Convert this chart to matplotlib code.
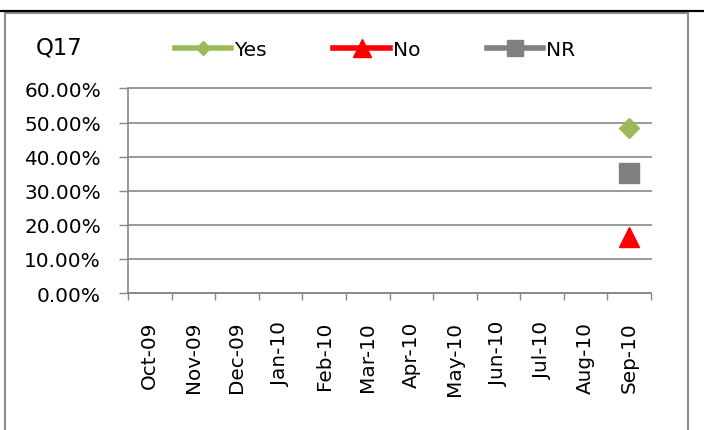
import numpy as np
import matplotlib
matplotlib.use("Agg")
import matplotlib.pyplot as plt
import matplotlib.ticker as ticker
from matplotlib.lines import Line2D
from matplotlib.patches import Rectangle

# data (only Sep-10 has values)
months = ["Oct-09", "Nov-09", "Dec-09", "Jan-10", "Feb-10", "Mar-10",
          "Apr-10", "May-10", "Jun-10", "Jul-10", "Aug-10", "Sep-10"]
nan = np.nan
yes = [nan] * 11 + [0.485]
no = [nan] * 11 + [0.163]
nr = [nan] * 11 + [0.352]

GRID = "#878787"
FRAME = "#8c8c8c"
W, H = 704, 431

plt.rcParams['font.family'] = ['DejaVu Sans']

fig = plt.figure(figsize=(W / 100, H / 100), dpi=100)
ax = fig.add_axes([128 / W, 1 - 294 / H, (651 - 128) / W, (294 - 89.5) / H])

x = np.arange(len(months))
l_yes, = ax.plot(x, yes, color="#9BBB59", lw=4, marker="D", ms=10.2, label="Yes")
l_no, = ax.plot(x, no, color="#FF0000", lw=4, marker="^", ms=14.4, label="No")
l_nr, = ax.plot(x, nr, color="#808080", lw=4, marker="s", ms=14.4, label="NR")

ax.set_xlim(-0.5, len(months) - 0.5)
ax.set_ylim(0, 0.6)
ax.yaxis.set_major_locator(ticker.MultipleLocator(0.1))
ax.yaxis.set_major_formatter(ticker.PercentFormatter(xmax=1, decimals=2))
ax.set_xticks(x)
ax.set_xticklabels(months, rotation=90)
ax.set_xticks(np.arange(-0.5, len(months)), minor=True)

ax.grid(axis="y", color=GRID, lw=1.2)
for gl in ax.get_ygridlines():
    gl.set_clip_on(False)
ax.set_axisbelow(True)
for s in ["top", "right"]:
    ax.spines[s].set_visible(False)
for s in ["left", "bottom"]:
    ax.spines[s].set_color(GRID)
    ax.spines[s].set_linewidth(1.2)

ax.tick_params(axis="y", direction="out", length=6.5, width=1, color=GRID,
               labelsize=14.4, pad=13)
ax.tick_params(axis="x", which="major", length=0, labelsize=14.4, pad=20)
ax.tick_params(axis="x", which="minor", direction="out", length=5, width=1, color=GRID)

fig.text(36 / W, 1 - 48 / H, "Q17", fontsize=16.4, ha="left", va="center")

leg = fig.legend(handles=[l_yes, l_no, l_nr], ncol=3, loc="center left",
                 bbox_to_anchor=(175 / W, 1 - 51 / H), frameon=False,
                 fontsize=14.5, handlelength=2.8, handletextpad=0.15,
                 columnspacing=3.3, borderpad=0, borderaxespad=0)
for h, ms in zip(leg.legend_handles, [7.2, 12.5, 12.2]):
    h.set_markersize(ms)

# outer chart frame and the black rule above it
fig.add_artist(Rectangle((5 / W, -0.1), (688 - 5) / W, 1.1 - 13.5 / H,
                         transform=fig.transFigure, fill=False,
                         edgecolor=FRAME, lw=1.5))
fig.add_artist(Line2D([0, 1], [1 - 11.5 / H] * 2, transform=fig.transFigure,
                      color="black", lw=1.6))

fig.savefig("out.png", dpi=100)
